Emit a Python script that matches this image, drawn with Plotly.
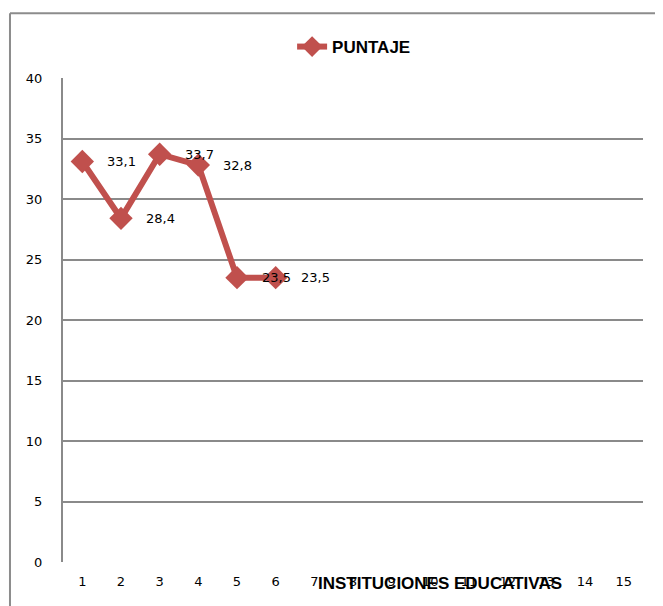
import plotly.graph_objects as go

categories = list(range(1, 16))
x_points = [1, 2, 3, 4, 5, 6]
puntaje = [33.1, 28.4, 33.7, 32.8, 23.5, 23.5]
y_ticks = [0, 5, 10, 15, 20, 25, 30, 35, 40]

RED = "#C0504D"
GRID = "#8A8A8A"

fig = go.Figure()
fig.add_trace(go.Scatter(
    x=x_points, y=puntaje, mode="lines+markers", name="<b>PUNTAJE</b>",
    line=dict(color=RED, width=6),
    marker=dict(symbol="diamond", size=18, color=RED),
))

for xv, yv in zip(x_points, puntaje):
    fig.add_annotation(x=xv, y=yv, text=f"{yv:.1f}".replace(".", ","),
                       showarrow=False, xanchor="left", xshift=23, yshift=0,
                       font=dict(family="DejaVu Sans", size=13, color="#000"))

fig.add_annotation(x=0.65, y=-0.068, xref="paper", yref="paper",
                   text="<b>INSTITUCIONES EDUCATIVAS</b>", showarrow=False,
                   font=dict(family="Liberation Sans Narrow, Liberation Sans", size=17, color="#000"))

# outer chart frame (cut off at right and bottom)
fig.add_shape(type="line", xref="paper", yref="paper", x0=-0.0914, x1=1.05, y0=1.134, y1=1.134,
              line=dict(color="#8C8C8C", width=2))
fig.add_shape(type="line", xref="paper", yref="paper", x0=-0.0914, x1=-0.0914, y0=1.134, y1=-0.12,
              line=dict(color="#8C8C8C", width=2))

fig.update_layout(
    width=655, height=598,
    margin=dict(l=55, r=20, t=70, b=44),
    plot_bgcolor="white", paper_bgcolor="white",
    showlegend=True,
    legend=dict(x=0.395, y=1.064, xanchor="left", yanchor="middle",
                font=dict(family="Liberation Sans Narrow, Liberation Sans", size=17, color="#000"),
                bgcolor="rgba(0,0,0,0)"),
    font=dict(family="DejaVu Sans", size=13, color="#000"),
)

fig.update_xaxes(range=[0.5, 15.5], tickvals=categories, ticktext=[str(c) for c in categories],
                 showgrid=False, zeroline=False, showline=False, ticks="",
                 tickfont=dict(family="DejaVu Sans", size=13), ticklabelstandoff=10)
fig.update_yaxes(range=[0, 40], tickvals=y_ticks, showgrid=True, gridcolor=GRID, gridwidth=2,
                 zeroline=False, showline=True, linecolor=GRID, linewidth=2, ticks="",
                 tickfont=dict(family="DejaVu Sans", size=13), ticklabelstandoff=16)

fig.write_html("out.html")
